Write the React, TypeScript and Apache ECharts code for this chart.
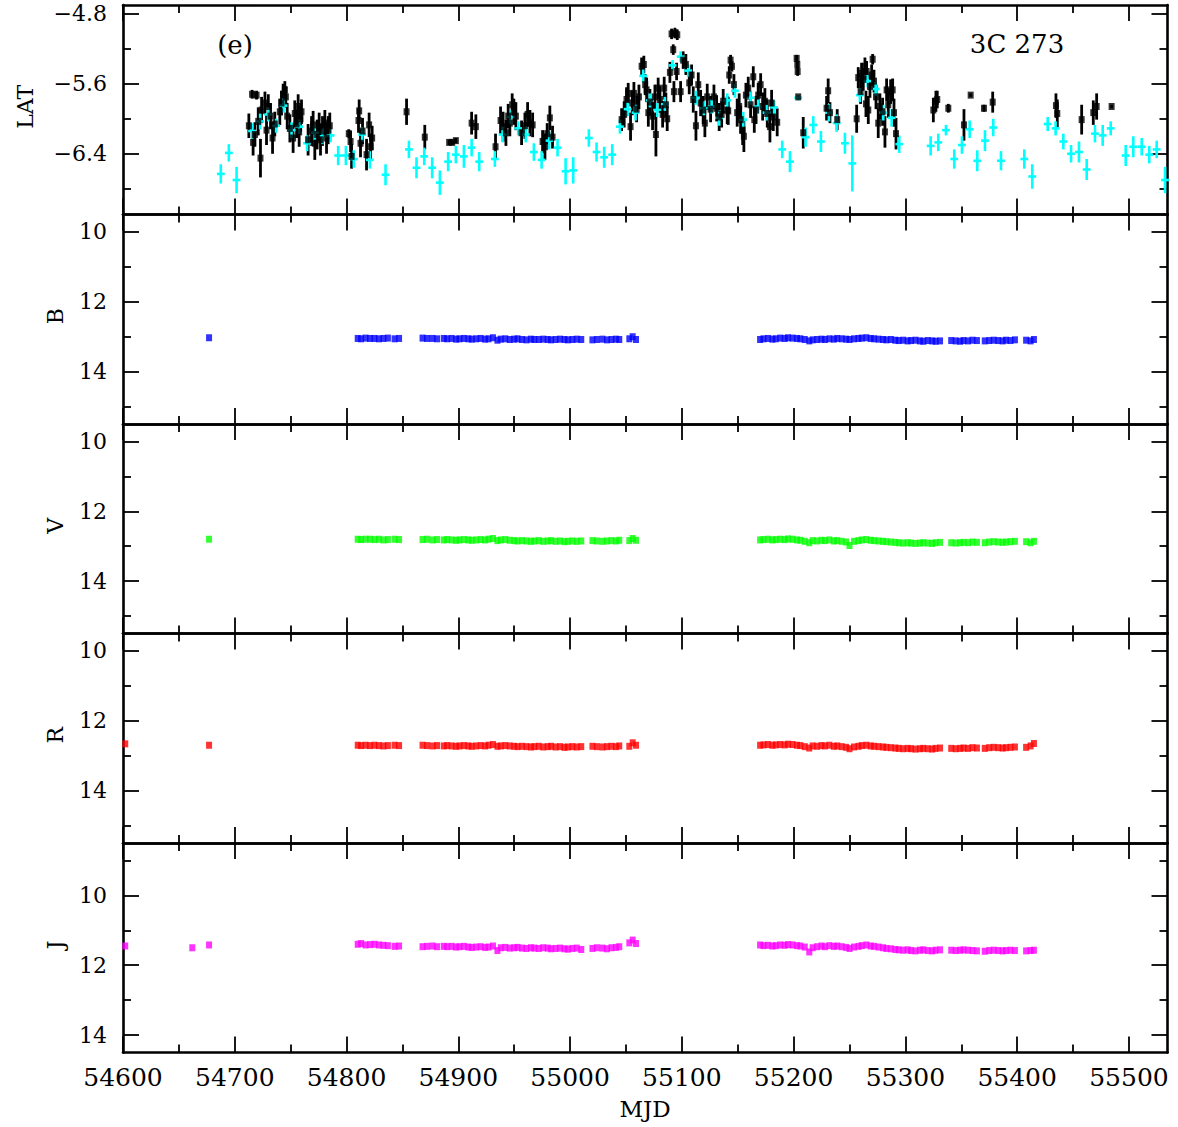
import React, { useEffect, useRef } from "react";
import * as echarts from "echarts";

// ---------------- axis / tick data ----------------
const xMin = 54600;
const xMax = 55534.5;
const xMajorTicks = [54600, 54700, 54800, 54900, 55000, 55100, 55200, 55300, 55400, 55500];
const xMinorTicks = [54650, 54750, 54850, 54950, 55050, 55150, 55250, 55350, 55450];

const latMajorTicks = [-6.4, -5.6, -4.8];
const latMinorTicks = [-6.8, -6.0, -5.2];
const magMajorTicks = [10, 12, 14];
const magMinorTicks = [11, 13, 15];
const jMinorTicks = [9, 11, 13];

// ---------------- Fermi-LAT daily bins (black) ----------------
const latDayMjd = [
  54712.6, 54715.5, 54716.4, 54718, 54719.5, 54721, 54723, 54724, 54727, 54728.4,
  54730, 54732, 54733.8, 54735.8, 54740.3, 54741.8, 54743.3, 54744.8, 54745.7, 54746.9,
  54749.3, 54752.2, 54753.7, 54755.3, 54756.7, 54757.6, 54758.8, 54759.7, 54765.6, 54768.7,
  54770.1, 54771.6, 54773.7, 54775.5, 54776.7, 54778.5, 54780.6, 54782.1, 54783.6, 54785,
  54802, 54803.6, 54804.5, 54810.7, 54811.3, 54812.5, 54814.3, 54817.9, 54820.2, 54821.5,
  54822.9, 54853.7, 54870, 54891.8, 54894.5, 54897.8, 54911.9, 54915.7, 54933.3, 54937.8,
  54940.1, 54942.6, 54944.6, 54946.1, 54948.2, 54949.7, 54951.5, 54956.6, 54959.6, 54962,
  54964.1, 54966.5, 54975.4, 54977.5, 54979.5, 54981.9, 54984.3, 55046.1, 55048.4, 55050.5,
  55052, 55054.1, 55055.6, 55057.1, 55059.5, 55061.6, 55064, 55066, 55067.2, 55068.5,
  55070, 55071.4, 55073.8, 55075.9, 55076.8, 55078.8, 55080.4, 55082.8, 55084.2, 55085.7,
  55086.9, 55089.3, 55090.8, 55092.3, 55092.9, 55093.8, 55095.3, 55095.9, 55098.9, 55101.2,
  55103.6, 55106.6, 55108.7, 55110.2, 55112.6, 55114.7, 55116.8, 55119.1, 55120.6, 55122.7,
  55125.7, 55128.7, 55131.1, 55133.4, 55135.6, 55137, 55140.6, 55141.5, 55142.4, 55143.6,
  55144.8, 55146.6, 55149.5, 55151.3, 55152.6, 55154.4, 55155.5, 55157.3, 55159.4, 55161.5,
  55163.9, 55164.8, 55166.3, 55168.3, 55170.5, 55172.3, 55174.3, 55176.4, 55178.8, 55180.3,
  55181.8, 55185.3, 55202.7, 55203.3, 55203.6, 55204.1, 55208.6, 55229.5, 55230.9, 55232.5,
  55239, 55256.4, 55257.8, 55259.9, 55260.8, 55262.3, 55263.8, 55264.7, 55265.3, 55266.8,
  55268.3, 55269.8, 55270.7, 55271.9, 55273.7, 55275.7, 55277.2, 55279.6, 55281.7, 55283.2,
  55284.7, 55286.8, 55288.6, 55289.8, 55291.6, 55325, 55327.3, 55328.5, 55338.4, 55352.4,
  55358.4, 55370.3, 55378.1, 55434.7, 55435.9, 55457.7, 55468.1, 55471.1, 55484.5,
];
const latDayFlux = [
  -6.08, -5.72, -6.27, -6.18, -5.73, -6.03, -6.45, -5.9, -5.82, -6.13,
  -5.86, -5.97, -6.22, -6.06, -5.92, -5.82, -5.72, -5.67, -5.75, -5.97,
  -6.11, -6.22, -5.94, -6.06, -5.86, -6.15, -6.0, -5.92, -6.24, -6.14,
  -6.07, -6.28, -6.18, -6.09, -6.24, -6.14, -6.05, -6.22, -6.13, -6.08,
  -6.17, -6.26, -6.43, -6.02, -5.91, -6.28, -6.14, -6.41, -6.07, -6.32,
  -6.22, -5.92, -6.21, -6.27, -6.27, -6.25, -6.05, -6.09, -6.32, -6.02,
  -6.09, -6.16, -5.97, -6.05, -5.84, -5.92, -5.97, -6.16, -6.08, -5.95,
  -6.05, -6.07, -6.26, -6.32, -6.17, -5.99, -6.21, -6.01, -5.95, -5.78,
  -5.71, -6.09, -5.82, -5.71, -5.89, -5.75, -5.4, -5.38, -5.61, -5.67,
  -5.93, -5.81, -5.97, -5.75, -6.18, -5.65, -5.78, -5.95, -5.65, -5.84,
  -6.0, -5.47, -5.03, -5.21, -5.69, -5.02, -5.46, -5.04, -5.69, -5.33,
  -5.38, -5.59, -5.5, -5.78, -6.08, -5.61, -5.82, -5.9, -6.05, -5.75,
  -5.89, -5.75, -5.88, -5.98, -5.95, -5.8, -5.9, -5.91, -5.5, -5.33,
  -5.4, -5.61, -5.93, -5.86, -6.01, -6.13, -6.2, -5.73, -5.65, -5.84,
  -5.52, -6.01, -5.9, -5.73, -5.61, -5.86, -5.8, -5.94, -6.09, -5.82,
  -5.98, -6.04, -5.31, -5.38, -5.46, -5.75, -6.16, -5.88, -5.68, -5.93,
  -6.01, -6.0, -5.53, -5.69, -5.48, -5.55, -5.4, -5.83, -5.46, -5.9,
  -5.63, -5.5, -5.32, -5.57, -5.75, -6.05, -5.86, -5.92, -6.15, -5.67,
  -5.84, -5.69, -5.67, -5.93, -6.17, -5.9, -5.8, -5.78, -5.88, -6.07,
  -5.73, -5.88, -5.81, -5.85, -5.94, -6.01, -5.93, -5.86, -5.86,
];
const latDayErr = [
  0.14, 0.05, 0.15, 0.14, 0.05, 0.16, 0.22, 0.15, 0.13, 0.17,
  0.14, 0.15, 0.18, 0.14, 0.15, 0.14, 0.12, 0.1, 0.12, 0.15,
  0.16, 0.17, 0.15, 0.16, 0.14, 0.17, 0.15, 0.14, 0.18, 0.17,
  0.16, 0.19, 0.17, 0.16, 0.18, 0.17, 0.15, 0.18, 0.16, 0.15,
  0.05, 0.12, 0.14, 0.14, 0.13, 0.16, 0.15, 0.18, 0.14, 0.15,
  0.14, 0.15, 0.14, 0.03, 0.03, 0.03, 0.13, 0.14, 0.15, 0.16,
  0.17, 0.15, 0.14, 0.15, 0.13, 0.15, 0.16, 0.14, 0.15, 0.14,
  0.15, 0.14, 0.13, 0.15, 0.12, 0.14, 0.13, 0.13, 0.15, 0.14,
  0.12, 0.16, 0.14, 0.13, 0.15, 0.14, 0.1, 0.1, 0.12, 0.14,
  0.16, 0.15, 0.16, 0.14, 0.25, 0.12, 0.15, 0.15, 0.13, 0.14,
  0.14, 0.12, 0.06, 0.06, 0.12, 0.06, 0.1, 0.06, 0.12, 0.1,
  0.12, 0.13, 0.12, 0.15, 0.17, 0.14, 0.15, 0.16, 0.16, 0.15,
  0.15, 0.14, 0.15, 0.16, 0.15, 0.14, 0.16, 0.16, 0.1, 0.06,
  0.06, 0.12, 0.16, 0.15, 0.16, 0.17, 0.18, 0.14, 0.13, 0.15,
  0.12, 0.15, 0.16, 0.14, 0.13, 0.16, 0.15, 0.16, 0.18, 0.15,
  0.16, 0.16, 0.04, 0.04, 0.05, 0.02, 0.18, 0.14, 0.14, 0.12,
  0.12, 0.16, 0.12, 0.14, 0.12, 0.13, 0.1, 0.15, 0.12, 0.16,
  0.13, 0.12, 0.06, 0.13, 0.14, 0.17, 0.15, 0.16, 0.18, 0.13,
  0.15, 0.14, 0.13, 0.16, 0.18, 0.14, 0.12, 0.1, 0.05, 0.18,
  0.02, 0.04, 0.12, 0.14, 0.16, 0.17, 0.14, 0.15, 0.02,
];

// ---------------- Fermi-LAT weekly bins (cyan) ----------------
const latWeekMjd = [
  54687.5, 54694.7, 54701.6, 54715.5, 54722.7, 54729.9, 54737, 54743.6, 54750.8, 54757.6,
  54764.7, 54771.6, 54778.5, 54785.7, 54792.5, 54799.4, 54806.5, 54814, 54820.9, 54834.9,
  54855.8, 54862.6, 54869.5, 54876.6, 54883.5, 54890.9, 54897.8, 54905, 54911.9, 54918.7,
  54932.7, 54939.6, 54946.8, 54953.6, 54960.4, 54967.6, 54974.5, 54981.3, 54988.8, 54996,
  55002.8, 55016.8, 55023.7, 55030.5, 55037.7, 55044.6, 55051.5, 55058.6, 55065.4, 55071.4,
  55077.9, 55084.8, 55091.7, 55098.9, 55105.7, 55112.6, 55119.7, 55126.6, 55133.4, 55140.6,
  55147.5, 55154.9, 55161.5, 55168.3, 55175.8, 55182.6, 55189.8, 55196.7, 55204.1, 55210.7,
  55217.6, 55224.4, 55231.6, 55238.5, 55245.9, 55252.5, 55259.3, 55266.2, 55273.4, 55280.2,
  55287.7, 55294.5, 55322.6, 55329.4, 55336.3, 55343.7, 55350.6, 55357.5, 55364.3, 55371.2,
  55378.6, 55385.5, 55406.4, 55413.5, 55427.3, 55434.4, 55441.3, 55448.2, 55455.3, 55462.2,
  55469.6, 55476.5, 55483.7, 55497.1, 55503.9, 55511.4, 55518.2, 55524.8, 55532.3,
];
const latWeekFlux = [
  -6.63, -6.39, -6.7, -6.14, -6.03, -5.95, -6.08, -5.85, -6.13, -6.09,
  -6.28, -6.16, -6.2, -6.19, -6.42, -6.42, -6.46, -6.18, -6.47, -6.64,
  -6.35, -6.56, -6.43, -6.56, -6.73, -6.49, -6.41, -6.43, -6.33, -6.49,
  -6.46, -6.18, -5.98, -6.11, -6.18, -6.38, -6.47, -6.25, -6.33, -6.6,
  -6.59, -6.22, -6.38, -6.44, -6.41, -6.09, -5.89, -5.93, -5.51, -5.79,
  -5.9, -5.83, -5.39, -5.29, -5.45, -5.76, -5.88, -5.86, -5.99, -5.79,
  -5.68, -6.01, -5.76, -5.86, -5.93, -5.87, -6.35, -6.49, -5.76, -6.21,
  -6.07, -6.26, -5.93, -6.05, -6.28, -6.51, -5.73, -5.57, -5.66, -5.93,
  -5.99, -6.29, -6.31, -6.27, -6.13, -6.46, -6.3, -6.12, -6.48, -6.25,
  -6.1, -6.48, -6.46, -6.66, -6.06, -6.11, -6.26, -6.4, -6.38, -6.58,
  -6.17, -6.19, -6.11, -6.42, -6.32, -6.32, -6.41, -6.35, -6.7,
];
const latWeekErr = [
  0.11, 0.1, 0.15, 0.09, 0.09, 0.08, 0.08, 0.08, 0.09, 0.08,
  0.09, 0.08, 0.09, 0.08, 0.11, 0.11, 0.1, 0.08, 0.1, 0.12,
  0.1, 0.12, 0.1, 0.12, 0.14, 0.11, 0.1, 0.13, 0.1, 0.11,
  0.09, 0.09, 0.08, 0.08, 0.09, 0.1, 0.1, 0.1, 0.1, 0.15,
  0.15, 0.1, 0.11, 0.12, 0.12, 0.08, 0.08, 0.09, 0.08, 0.08,
  0.08, 0.08, 0.06, 0.06, 0.07, 0.08, 0.08, 0.08, 0.09, 0.08,
  0.08, 0.09, 0.08, 0.08, 0.09, 0.08, 0.1, 0.12, 0.03, 0.11,
  0.1, 0.12, 0.1, 0.1, 0.12, 0.32, 0.08, 0.07, 0.08, 0.09,
  0.1, 0.1, 0.11, 0.1, 0.06, 0.11, 0.1, 0.1, 0.12, 0.12,
  0.1, 0.11, 0.11, 0.14, 0.08, 0.08, 0.09, 0.1, 0.12, 0.12,
  0.1, 0.12, 0.08, 0.12, 0.12, 0.1, 0.1, 0.1, 0.15,
];
const weekHalfWidth = 3.5;

// ---------------- SMARTS optical / NIR (shared dates) ----------------
const optMjd = [
  54602, 54662, 54677,
  54810, 54813, 54817, 54821, 54825, 54829, 54833, 54837, 54843, 54847,
  54868, 54872, 54877, 54881,
  54887, 54890, 54894, 54898, 54901, 54905, 54909, 54912, 54916, 54920,
  54924, 54927, 54931, 54935, 54938, 54942, 54946, 54950, 54953, 54957,
  54961, 54965, 54968, 54972, 54976, 54980, 54983, 54987, 54991, 54995,
  54998, 55002, 55006, 55010, 55020, 55024, 55029, 55033, 55037, 55041,
  55044, 55053, 55056, 55059,
  55170, 55173, 55177, 55181, 55184, 55188, 55192, 55195, 55199, 55203,
  55206, 55210, 55214, 55217, 55221, 55225, 55228, 55232, 55236, 55239,
  55243, 55247, 55250, 55254, 55258, 55261, 55265, 55269, 55272, 55276,
  55280, 55283, 55287, 55291, 55294, 55298, 55302, 55305, 55309, 55313,
  55316, 55320, 55324, 55327, 55331, 55341, 55345, 55349, 55352, 55356,
  55360, 55364, 55371, 55375, 55379, 55383, 55387, 55390, 55394, 55398,
  55408, 55412, 55415,
];
const bMag = [
  null, null, 13.03,
  13.05, 13.06, 13.04, 13.05, 13.05, 13.06, 13.05, 13.04, 13.06, 13.05,
  13.04, 13.05, 13.05, 13.06,
  13.05, 13.06, 13.05, 13.07, 13.06, 13.05, 13.06, 13.07, 13.06, 13.05,
  13.07, 13.06, 13.03, 13.1, 13.07, 13.06, 13.08, 13.07, 13.06, 13.08,
  13.09, 13.07, 13.08, 13.08, 13.07, 13.08, 13.09, 13.08, 13.07, 13.08,
  13.09, 13.08, 13.07, 13.08, 13.09, 13.08, 13.07, 13.09, 13.08, 13.07,
  13.08, 13.06, 13.0, 13.08,
  13.08, 13.06, 13.05, 13.07, 13.06, 13.04, 13.05, 13.03, 13.04, 13.05,
  13.06, 13.08, 13.12, 13.09, 13.08, 13.07, 13.08, 13.06, 13.07, 13.05,
  13.06, 13.07, 13.08, 13.06, 13.05, 13.04, 13.03, 13.05, 13.06, 13.07,
  13.08, 13.09, 13.08, 13.1, 13.11, 13.1, 13.12, 13.11, 13.1, 13.12,
  13.13, 13.11, 13.12, 13.13, 13.12, 13.11, 13.12, 13.13, 13.11, 13.12,
  13.1, 13.11, 13.12, 13.11, 13.1, 13.11, 13.12, 13.1, 13.11, 13.09,
  13.1, 13.12, 13.08,
];
const vMag = [
  null, null, 12.8,
  12.8, 12.81, 12.8, 12.8, 12.81, 12.8, 12.82, 12.81, 12.8, 12.81,
  12.81, 12.8, 12.82, 12.81,
  12.82, 12.81, 12.82, 12.83, 12.82, 12.81, 12.82, 12.83, 12.82, 12.81,
  12.82, 12.8, 12.78, 12.84, 12.82, 12.81, 12.83, 12.84, 12.85, 12.84,
  12.85, 12.86, 12.85, 12.84, 12.86, 12.85, 12.84, 12.86, 12.85, 12.87,
  12.86, 12.85, 12.86, 12.85, 12.84, 12.85, 12.86, 12.85, 12.84, 12.85,
  12.83, 12.84, 12.78, 12.83,
  12.82, 12.81, 12.8, 12.82, 12.81, 12.8, 12.81, 12.79, 12.8, 12.82,
  12.83, 12.86, 12.9, 12.84, 12.85, 12.83, 12.84, 12.82, 12.85, 12.84,
  12.86, 12.88, 12.98, 12.86, 12.84, 12.82, 12.81, 12.83, 12.84, 12.85,
  12.86, 12.87, 12.88, 12.89, 12.9, 12.91, 12.9, 12.91, 12.92, 12.91,
  12.9, 12.91, 12.92, 12.9, 12.89, 12.9, 12.91, 12.9, 12.89, 12.9,
  12.88, 12.89, 12.9, 12.88, 12.87, 12.88, 12.89, 12.88, 12.87, 12.86,
  12.87, 12.9, 12.86,
];
const rMag = [
  12.66, null, 12.7,
  12.7, 12.71, 12.7, 12.71, 12.7, 12.71, 12.72, 12.71, 12.7, 12.71,
  12.7, 12.71, 12.72, 12.71,
  12.72, 12.71, 12.72, 12.73, 12.72, 12.71, 12.72, 12.73, 12.72, 12.71,
  12.72, 12.7, 12.68, 12.73, 12.72, 12.71, 12.72, 12.73, 12.74, 12.73,
  12.74, 12.75, 12.74, 12.73, 12.75, 12.74, 12.73, 12.75, 12.74, 12.76,
  12.75, 12.74, 12.75, 12.74, 12.73, 12.74, 12.75, 12.74, 12.73, 12.74,
  12.72, 12.73, 12.63, 12.7,
  12.7, 12.69, 12.68, 12.7, 12.69, 12.68, 12.69, 12.67, 12.68, 12.7,
  12.71, 12.74, 12.78, 12.72, 12.73, 12.71, 12.72, 12.7, 12.73, 12.72,
  12.74, 12.76, 12.8, 12.75, 12.73, 12.71, 12.7, 12.72, 12.73, 12.74,
  12.75, 12.76, 12.77, 12.78, 12.79, 12.8, 12.79, 12.8, 12.81, 12.8,
  12.79, 12.8, 12.81, 12.79, 12.78, 12.79, 12.8, 12.79, 12.78, 12.79,
  12.77, 12.78, 12.79, 12.77, 12.76, 12.77, 12.78, 12.77, 12.76, 12.75,
  12.76, 12.72, 12.65,
];
const jMag = [
  11.45, 11.5, 11.42,
  11.4, 11.38, 11.42, 11.41, 11.4, 11.42, 11.43, 11.44, 11.46, 11.45,
  11.47, 11.46, 11.45, 11.47,
  11.46, 11.47, 11.46, 11.48, 11.47, 11.46, 11.48, 11.49, 11.48, 11.47,
  11.49, 11.48, 11.45, 11.58, 11.5, 11.49, 11.51, 11.5, 11.49, 11.51,
  11.52, 11.5, 11.51, 11.52, 11.5, 11.51, 11.53, 11.52, 11.51, 11.53,
  11.54, 11.52, 11.51, 11.55, 11.52, 11.5, 11.51, 11.53, 11.5, 11.49,
  11.47, 11.36, 11.28, 11.38,
  11.42, 11.44, 11.43, 11.45, 11.44, 11.42, 11.43, 11.41, 11.42, 11.44,
  11.45, 11.48, 11.62, 11.5, 11.47, 11.45, 11.47, 11.44, 11.46, 11.45,
  11.47, 11.49, 11.52, 11.48, 11.46, 11.44, 11.42, 11.45, 11.46, 11.48,
  11.5, 11.52, 11.53, 11.55, 11.56, 11.57, 11.56, 11.58, 11.59, 11.57,
  11.56, 11.58, 11.59, 11.57, 11.56, 11.57, 11.58, 11.57, 11.56, 11.57,
  11.58, 11.59, 11.6, 11.58, 11.57, 11.58, 11.59, 11.58, 11.57, 11.58,
  11.59, 11.58, 11.57,
];

// ---------------- layout ----------------
const FONT = '"DejaVu Serif", "Liberation Serif", serif';
const GRID_LEFT = 123;
const GRID_RIGHT_EDGE = 1167.5;
const PANEL_TOP = 5;
const PANEL_H = 209.5;

const fmtLat = (v: number) => (v < 0 ? "\u2212" : "") + Math.abs(v).toFixed(1);
const fmtMag = (v: number) => String(v);

const panels = [
  { name: "LAT", min: -7.094, max: -4.7, inverse: false, major: latMajorTicks, minor: latMinorTicks, fmt: fmtLat, nameX: 25 },
  { name: "B", min: 9.5, max: 15.5, inverse: true, major: magMajorTicks, minor: magMinorTicks, fmt: fmtMag, nameX: 55 },
  { name: "V", min: 9.5, max: 15.5, inverse: true, major: magMajorTicks, minor: magMinorTicks, fmt: fmtMag, nameX: 55 },
  { name: "R", min: 9.5, max: 15.5, inverse: true, major: magMajorTicks, minor: magMinorTicks, fmt: fmtMag, nameX: 55 },
  { name: "J", min: 8.5, max: 14.5, inverse: true, major: magMajorTicks, minor: jMinorTicks, fmt: fmtMag, nameX: 55 },
];

const AXIS_COLOR = "#000";

function buildOption() {
  const grids: any[] = [];
  const xAxes: any[] = [];
  const yAxes: any[] = [];
  const graphics: any[] = [];

  panels.forEach((p, i) => {
    grids.push({
      left: GRID_LEFT,
      width: GRID_RIGHT_EDGE - GRID_LEFT,
      top: PANEL_TOP + i * PANEL_H,
      height: PANEL_H,
    });
    const isLast = i === panels.length - 1;
    const xBase = {
      type: "value",
      gridIndex: i,
      min: xMin,
      max: xMax,
      splitLine: { show: false },
    };
    const mkX = (position: string, ticks: number[], len: number, line: boolean, labels: boolean) => ({
      ...xBase,
      position,
      axisLine: { show: line, onZero: false, lineStyle: { color: AXIS_COLOR, width: 2.6 } },
      axisTick: { show: true, inside: true, length: len, customValues: ticks, lineStyle: { color: AXIS_COLOR, width: 1.8 } },
      axisLabel: {
        show: labels,
        customValues: ticks,
        color: "#000",
        fontFamily: FONT,
        fontSize: 25,
        margin: 12,
        formatter: (v: number) => String(v),
      },
    });
    xAxes.push(mkX("bottom", xMajorTicks, 16, true, isLast));
    xAxes.push(mkX("bottom", xMinorTicks, 8, false, false));
    xAxes.push(mkX("top", xMajorTicks, 16, true, false));
    xAxes.push(mkX("top", xMinorTicks, 8, false, false));

    const mkY = (position: string, ticks: number[], len: number, line: boolean, labels: boolean) => ({
      type: "value",
      gridIndex: i,
      position,
      min: p.min,
      max: p.max,
      inverse: p.inverse,
      splitLine: { show: false },
      axisLine: { show: line, onZero: false, lineStyle: { color: AXIS_COLOR, width: 2.6 } },
      axisTick: { show: true, inside: true, length: len, customValues: ticks, lineStyle: { color: AXIS_COLOR, width: 1.8 } },
      axisLabel: {
        show: labels,
        customValues: ticks,
        color: "#000",
        fontFamily: FONT,
        fontSize: 22,
        margin: 16,
        formatter: p.fmt,
      },
    });
    yAxes.push(mkY("left", p.major, 16, true, true));
    yAxes.push(mkY("left", p.minor, 8, false, false));
    yAxes.push(mkY("right", p.major, 16, true, false));
    yAxes.push(mkY("right", p.minor, 8, false, false));

    graphics.push({
      type: "text",
      x: p.nameX,
      y: PANEL_TOP + i * PANEL_H + PANEL_H / 2 - 3,
      rotation: Math.PI / 2,
      style: {
        text: p.name,
        fontFamily: FONT,
        fontSize: 22,
        fill: "#000",
        align: "center",
        verticalAlign: "middle",
      },
    });
  });

  graphics.push({
    type: "text",
    x: 645,
    y: 1109,
    style: { text: "MJD", fontFamily: FONT, fontSize: 23, fill: "#000", align: "center", verticalAlign: "middle" },
  });
  graphics.push({
    type: "text",
    x: 235,
    y: 45,
    style: { text: "(e)", fontFamily: FONT, fontSize: 26, fill: "#000", align: "center", verticalAlign: "middle" },
  });
  graphics.push({
    type: "text",
    x: 1017,
    y: 44,
    style: { text: "3C 273", fontFamily: FONT, fontSize: 26, fill: "#000", align: "center", verticalAlign: "middle" },
  });

  const dayData = latDayMjd.map((m, k) => [m, latDayFlux[k], latDayErr[k]]);
  const weekData = latWeekMjd.map((m, k) => [m, latWeekFlux[k], latWeekErr[k]]);

  const errRender = (color: string, lw: number, halfX: number) => (params: any, api: any) => {
    const x = api.value(0);
    const y = api.value(1);
    const e = api.value(2);
    const p1 = api.coord([x, y - e]);
    const p2 = api.coord([x, y + e]);
    const children: any[] = [
      { type: "line", shape: { x1: p1[0], y1: p1[1], x2: p2[0], y2: p2[1] }, style: { stroke: color, lineWidth: lw } },
    ];
    if (halfX > 0) {
      const q1 = api.coord([x - halfX, y]);
      const q2 = api.coord([x + halfX, y]);
      children.push({
        type: "line",
        shape: { x1: q1[0], y1: q1[1], x2: q2[0], y2: q2[1] },
        style: { stroke: color, lineWidth: lw },
      });
    }
    return { type: "group", children };
  };

  const series: any[] = [
    {
      type: "custom",
      name: "LAT daily err",
      xAxisIndex: 0,
      yAxisIndex: 0,
      data: dayData,
      encode: { x: 0, y: 1 },
      renderItem: errRender("#000", 2.8, 0),
      silent: true,
    },
    {
      type: "scatter",
      name: "LAT daily",
      xAxisIndex: 0,
      yAxisIndex: 0,
      data: dayData.map((d) => [d[0], d[1]]),
      symbol: "rect",
      symbolSize: [6, 7],
      itemStyle: { color: "#000" },
      silent: true,
    },
    {
      type: "custom",
      name: "LAT weekly",
      xAxisIndex: 0,
      yAxisIndex: 0,
      data: weekData,
      encode: { x: 0, y: 1 },
      renderItem: errRender("#00ffff", 2.6, weekHalfWidth),
      silent: true,
    },
  ];

  const bands = [
    { vals: bMag, color: "#0000ff" },
    { vals: vMag, color: "#00ff00" },
    { vals: rMag, color: "#ff0000" },
    { vals: jMag, color: "#ff00ff" },
  ];
  bands.forEach((b, k) => {
    const gi = k + 1;
    const data: any[] = [];
    optMjd.forEach((m, idx) => {
      const v = b.vals[idx];
      if (v !== null && v !== undefined) data.push([m, v]);
    });
    series.push({
      type: "scatter",
      xAxisIndex: gi * 4,
      yAxisIndex: gi * 4,
      data,
      symbol: "rect",
      symbolSize: [6, 7],
      itemStyle: { color: b.color },
      silent: true,
    });
  });

  return {
    animation: false,
    backgroundColor: "#fff",
    grid: grids,
    xAxis: xAxes,
    yAxis: yAxes,
    series,
    graphic: graphics,
  };
}

export default function App() {
  const ref = useRef<HTMLDivElement>(null);
  useEffect(() => {
    if (!ref.current) return;
    const chart = echarts.init(ref.current, undefined, { renderer: "svg" });
    chart.setOption(buildOption() as any);
    return () => chart.dispose();
  }, []);
  return (
    <div
      ref={ref}
      style={{ position: "absolute", left: 0, top: 0, width: 1178, height: 1127, background: "#fff" }}
    />
  );
}
